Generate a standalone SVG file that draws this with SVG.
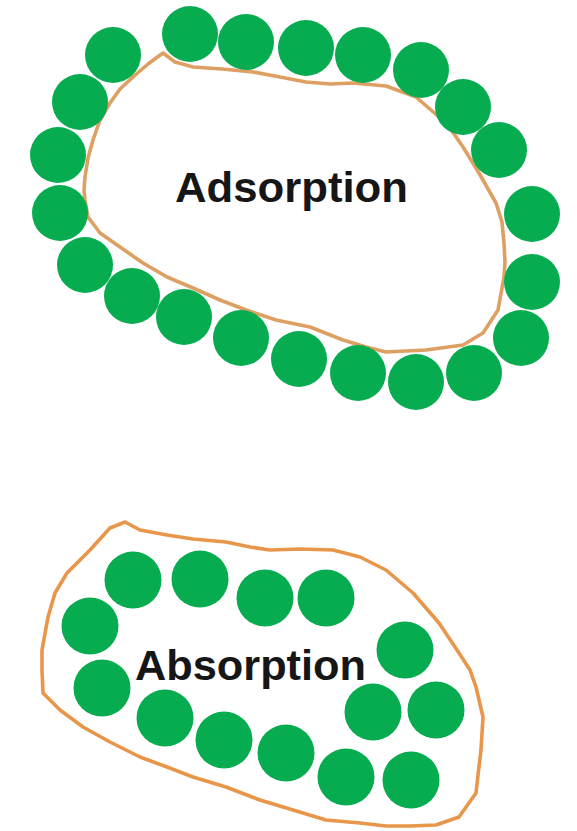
<svg xmlns="http://www.w3.org/2000/svg" width="577" height="831" viewBox="0 0 577 831">
  <style>
    .bg { fill: #ffffff; }
    .outline { fill: none; stroke-width: 3.6; stroke-linejoin: round; stroke-linecap: round; }
    .outline-top { stroke: #DDA062; }
    .outline-bottom { stroke: #E8964A; }
    .particle { fill: #06AC4F; }
    .label { font-family: "Liberation Sans", Arial, Helvetica, sans-serif; font-weight: bold; font-size: 43px; fill: #161616; text-anchor: start; }
    .halo { stroke: #ffffff; stroke-width: 5; paint-order: stroke; stroke-linejoin: round; }
  </style>

  <rect class="bg" x="0" y="0" width="577" height="831"/>

  <!-- Adsorption: particles held on the outer surface -->
  <g id="adsorption">
    <path class="outline outline-top" d="M163,53 L175,62 L193,67 L222,69 L253,72 L280,77 L306,82 L330,84 L353,83 L386,86 L416,97 L439,117 L452,131 L463,147 L479,173 L496,203 L502,222 L504,243 L505,262 L504,277 L498,310 L483,333 L463,345 L426,350 L386,352 L366,347 L343,340 L310,327 L276,320 L246,310 L220,300 L193,288 L167,277 L143,263 L120,247 L100,233 L88,217 L85,200 L84,190 L85,177 L88,158 L93,140 L100,120 L110,103 L120,89 L133,77 L148,64 Z"/>
    <g id="adsorption-particles">
      <circle class="particle" cx="113" cy="55" r="28"/>
      <circle class="particle" cx="190" cy="34" r="28"/>
      <circle class="particle" cx="246" cy="42" r="28"/>
      <circle class="particle" cx="306" cy="48" r="28"/>
      <circle class="particle" cx="363" cy="55" r="28"/>
      <circle class="particle" cx="421" cy="70" r="28"/>
      <circle class="particle" cx="463" cy="107" r="28"/>
      <circle class="particle" cx="499" cy="150" r="28"/>
      <circle class="particle" cx="532" cy="214" r="28"/>
      <circle class="particle" cx="532" cy="282" r="28"/>
      <circle class="particle" cx="521" cy="338" r="28"/>
      <circle class="particle" cx="474" cy="373" r="28"/>
      <circle class="particle" cx="416" cy="382" r="28"/>
      <circle class="particle" cx="358" cy="373" r="28"/>
      <circle class="particle" cx="299" cy="359" r="28"/>
      <circle class="particle" cx="241" cy="338" r="28"/>
      <circle class="particle" cx="184" cy="317" r="28"/>
      <circle class="particle" cx="132" cy="296" r="28"/>
      <circle class="particle" cx="85" cy="265" r="28"/>
      <circle class="particle" cx="60" cy="213" r="28"/>
      <circle class="particle" cx="58" cy="155" r="28"/>
      <circle class="particle" cx="80" cy="102" r="28"/>
    </g>
    <text class="label halo" x="175" y="202" textLength="233" lengthAdjust="spacingAndGlyphs">Adsorption</text>
  </g>

  <!-- Absorption: particles taken up inside the body -->
  <g id="absorption">
    <path class="outline outline-bottom" d="M125,522 L140,530 L167,535 L193,539 L226,542 L250,547 L270,550 L300,549 L333,550 L360,557 L386,570 L413,593 L439,623 L459,653 L470,670 L476,687 L483,717 L481,750 L478,775 L476,793 L459,817 L436,825 L410,826 L386,826 L360,823 L326,820 L293,810 L260,800 L226,787 L193,777 L167,767 L140,757 L110,742 L83,727 L60,710 L43,693 L42,670 L42,650 L48,617 L55,593 L67,573 L90,550 L110,528 Z"/>
    <g id="absorption-particles">
      <circle class="particle" cx="133" cy="580" r="28.5"/>
      <circle class="particle" cx="200" cy="579" r="28.5"/>
      <circle class="particle" cx="265" cy="598" r="28.5"/>
      <circle class="particle" cx="326" cy="598" r="28.5"/>
      <circle class="particle" cx="405" cy="650" r="28.5"/>
      <circle class="particle" cx="90" cy="626" r="28.5"/>
      <circle class="particle" cx="102" cy="688" r="28.5"/>
      <circle class="particle" cx="165" cy="718" r="28.5"/>
      <circle class="particle" cx="224" cy="740" r="28.5"/>
      <circle class="particle" cx="286" cy="753" r="28.5"/>
      <circle class="particle" cx="346" cy="777" r="28.5"/>
      <circle class="particle" cx="411" cy="780" r="28.5"/>
      <circle class="particle" cx="373" cy="712" r="28.5"/>
      <circle class="particle" cx="436" cy="710" r="28.5"/>
    </g>
    <text class="label halo" x="135" y="680" textLength="231" lengthAdjust="spacingAndGlyphs">Absorption</text>
  </g>
</svg>
